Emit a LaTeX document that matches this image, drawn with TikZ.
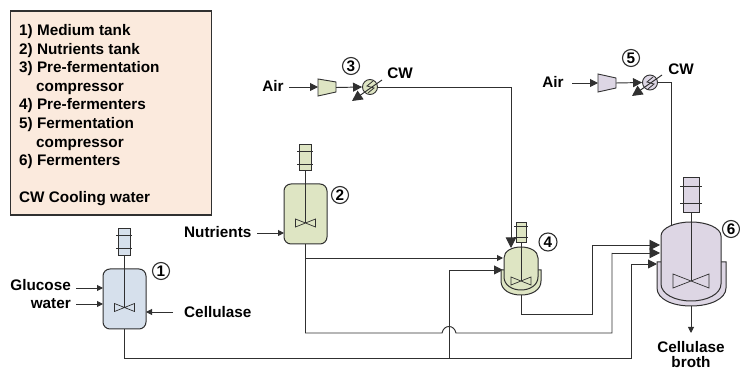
\documentclass[tikz,border=0pt]{standalone}
\usepackage{fontspec}
\setmainfont{Liberation Sans}
\usetikzlibrary{arrows.meta}
\definecolor{lg}{HTML}{FBEADD}
\definecolor{tb}{HTML}{D6E0EC}
\definecolor{tg}{HTML}{DEE5C3}
\definecolor{tp}{HTML}{DDD6E4}
\definecolor{ln}{HTML}{303030}
\newcommand{\impel}[4]{\draw[ln,line width=.7pt] (#1-#3,#2-#4)--(#1+#3,#2+#4)--(#1+#3,#2-#4)--(#1-#3,#2+#4)--cycle;}
\tikzset{
 lbl/.style={font=\fontsize{15.3}{15.3}\selectfont\bfseries,inner sep=0pt},
 pipe/.style={draw=ln,line width=.95pt},
 sm/.style={pipe,-{Triangle[length=6pt,width=6pt]}},
 bg/.style={pipe,-{Triangle[length=10.5pt,width=10.5pt]}},
 num/.style={circle,draw=ln,line width=1.1pt,inner sep=0pt,font=\fontsize{15.3}{15.3}\selectfont\bfseries},
 tank/.style={draw=ln,line width=1pt,rounded corners=7pt,inner sep=0pt},
 motor/.style={draw=ln,line width=.9pt,inner sep=0pt},
 hx/.style={circle,draw=ln,line width=.9pt,inner sep=0pt,minimum size=15pt},
 comp/.style={draw=ln,line width=.9pt,line join=miter},
 ghost/.style={inner sep=0pt},
}
\begin{document}
\begin{tikzpicture}[x=1pt,y=-1pt]
\useasboundingbox (0,0) rectangle (740,371);
% legend
\node[draw=ln,line width=1.7pt,fill=lg,minimum width=201pt,minimum height=204pt,inner sep=0pt,anchor=north west] (legend) at (9.5,10) {};
\node[lbl,anchor=north west,align=left,font=\fontsize{15.3}{18.55}\selectfont\bfseries] (legendtext) at (19,24.5) {1) Medium tank\\2) Nutrients tank\\3) Pre-fermentation\\\hspace*{17pt}compressor\\4) Pre-fermenters\\5) Fermentation\\\hspace*{17pt}compressor\\6) Fermenters\\[18.55pt]CW Cooling water};

% free-end coordinates
\coordinate (g0) at (76,288); \coordinate (g1) at (103,288);
\coordinate (w0) at (76,304); \coordinate (w1) at (103,304);
\coordinate (c0) at (173,312); \coordinate (c1) at (146,312);
\coordinate (n0) at (257,233); \coordinate (n1) at (284,233);
\coordinate (a30) at (289,87); \coordinate (a50) at (572,83);

% pipes underneath
\coordinate (t4a) at (503,258);
\coordinate (t4b) at (503,270);
\coordinate (t6a) at (660,245);
\coordinate (t6b) at (660,253);
\coordinate (t6c) at (657,264);
\coordinate (t4top) at (511,248);
\coordinate (t6top) at (671,226);

% tank 1
\node[tank,fill=tb,minimum width=43pt,minimum height=60pt] (t1) at (124.5,299) {};
\node[motor,fill=tb,minimum width=12pt,minimum height=27pt] (m1) at (124,241.5) {};
\draw[ln,line width=.8pt] (116,235)--(132,235) (116,248)--(132,248);
\draw[pipe] (m1.south)--(124,307.5);
\impel{124.5}{307.5}{10}{4}
\node[num,minimum size=17pt] (n1c) at (161,271) {1};
\node[lbl,anchor=east] (glu) at (71,285) {Glucose};
\node[lbl,anchor=east] (wat) at (71,304) {water};
\node[lbl,anchor=west] (cel) at (184,312) {Cellulase};
\draw[sm] (g0)--(g1);
\draw[sm] (w0)--(w1);
\draw[sm] (c0)--(c1);

% tank 2
\node[tank,fill=tg,minimum width=43pt,minimum height=60pt] (t2) at (305.5,214) {};
\node[motor,fill=tg,minimum width=12pt,minimum height=26pt] (m2) at (305.5,157) {};
\draw[ln,line width=.8pt] (297,151)--(313,151) (297,164)--(313,164);
\draw[pipe] (m2.south)--(305.5,223);
\impel{305.5}{223}{10}{4}
\node[num,minimum size=17pt] (n2c) at (340,195) {2};
\node[lbl,anchor=west] (nut) at (184,232) {Nutrients};
\draw[sm] (n0)--(n1);

% line 3
\node[lbl] (air3) at (273,86) {Air};
\draw[bg,-{Triangle[length=8pt,width=8pt]}] (a30)--(318,87);
\node[ghost,minimum width=18pt,minimum height=17pt] (k3) at (327,87.5) {};
\draw[comp,fill=tg] (318,79)--(336,82)--(336,92)--(318,96)--cycle;
\node[hx,fill=tg] (h3) at (370,87) {};
\draw[bg,-{Triangle[length=9pt,width=9pt]}] (k3.east)--(h3.west);
\draw[ln,line width=.8pt] (373,81)--(367,86)--(374,88)--(368,93);
\coordinate (h3a) at (382,80); \coordinate (h3b) at (352,101);
\draw[bg] (h3a)--(h3b);
\draw[bg] (h3.east)-|(t4top);
\node[num,minimum size=17pt] (n3c) at (351,66) {3};
\node[lbl] (cw3) at (400,73) {CW};

% line 5
\node[lbl] (air5) at (553,82) {Air};
\draw[bg,-{Triangle[length=8pt,width=8pt]}] (a50)--(598,83);
\node[ghost,minimum width=18pt,minimum height=18pt] (k5) at (607,83) {};
\draw[comp,fill=tp] (598,74)--(616,78)--(616,88)--(598,92)--cycle;
\node[hx,fill=tp] (h5) at (650,82.5) {};
\draw[bg,-{Triangle[length=9pt,width=9pt]}] (k5.east)--(h5.west);
\draw[ln,line width=.8pt] (653,77)--(647,82)--(654,84)--(648,89);
\coordinate (h5a) at (662,75); \coordinate (h5b) at (632,96);
\draw[bg] (h5a)--(h5b);
\draw[pipe] (h5.east)-|(t6top);
\node[num,minimum size=17pt] (n5c) at (631,58) {5};
\node[lbl] (cw5) at (681,69) {CW};

% pipes between vessels
\draw[sm] (t2.south)|-(t4a);
\draw[pipe] (t2.south)--(305.5,333)--(442,333)
  .. controls (443,328.5) and (446,326.5) .. (449,326.5)
  .. controls (452,326.5) and (455,328.5) .. (456,333)
  -- (612,333)--(612,253);
\draw[bg] (612,253)--(t6b);
\draw[pipe] (t1.south)--(124.5,358)--(631,358)--(631,264);
\draw[bg,-{Triangle[length=9pt,width=9pt]}] (631,264)--(t6c);
\draw[pipe] (449,358)--(449,270);
\draw[bg,-{Triangle[length=9pt,width=9pt]}] (449,270)--(t4b);

% vessel 4
\draw[ln,line width=1pt,fill=tg] (501,270)--(501,281) .. controls (501,290) and (510,295) .. (521,295) .. controls (532,295) and (541,290) .. (541,281)--(541,270)--cycle;
\draw[ln,line width=1pt,fill=tg] (504,258) .. controls (504,251) and (512,247) .. (521,247) .. controls (530,247) and (538,251) .. (538,258)--(538,277) .. controls (538,285) and (530,290) .. (521,290) .. controls (512,290) and (504,285) .. (504,277)--cycle;
\node[ghost,minimum width=40pt,minimum height=48pt] (v4) at (521,271) {};
\node[motor,fill=tg,minimum width=10pt,minimum height=20pt] (m4) at (521,232) {};
\draw[ln,line width=.8pt] (514,226)--(528,226) (514,237)--(528,237);
\draw[pipe] (m4.south)--(521,281);
\impel{521}{281}{10}{4}
\node[num,minimum size=18pt] (n4c) at (548,242) {4};
\draw[pipe] (v4.south)--(521,314)--(592,314)--(592,245);
\draw[bg] (592,245)--(t6a);

% vessel 6
\draw[ln,line width=1pt,fill=tp] (657,262)--(657,288) .. controls (657,299) and (672,306) .. (691,306) .. controls (710,306) and (726,299) .. (726,288)--(726,262)--cycle;
\draw[ln,line width=1pt,fill=tp] (661,236) .. controls (661,228) and (675,222) .. (691,222) .. controls (707,222) and (721,228) .. (721,236)--(721,284) .. controls (721,294) and (707,301) .. (691,301) .. controls (675,301) and (661,294) .. (661,284)--cycle;
\node[ghost,minimum width=69pt,minimum height=84pt] (v6) at (691,264) {};
\node[motor,fill=tp,minimum width=16pt,minimum height=35pt] (m6) at (691,194.5) {};
\draw[ln,line width=.8pt] (680,186)--(702,186) (680,203)--(702,203);
\draw[pipe] (m6.south)--(691,281);
\impel{691}{281}{18}{7}
\node[num,minimum size=17pt] (n6c) at (731,229) {6};
\coordinate (o6) at (691,333);
\draw[sm] (v6.south)--(o6);
\node[lbl] (cb1) at (691,347) {Cellulase};
\node[lbl] (cb2) at (691,362.5) {broth};
\end{tikzpicture}
\end{document}
